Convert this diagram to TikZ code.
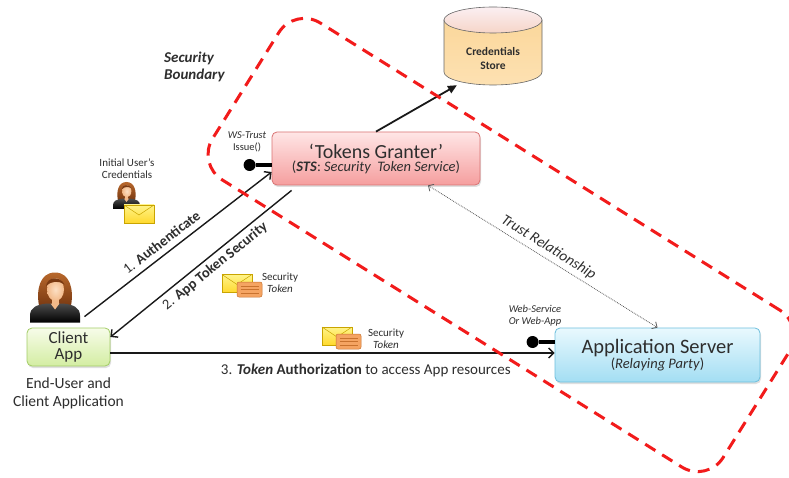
\documentclass[tikz,border=0pt]{standalone}
\usepackage{fontspec}
\setmainfont{Carlito}
\usetikzlibrary{arrows.meta,positioning,calc,shadows}
\definecolor{stsline}{HTML}{D97373}
\definecolor{ststop}{HTML}{FFE6E6}
\definecolor{stsbot}{HTML}{F59E9E}
\definecolor{appline}{HTML}{6DBFDD}
\definecolor{apptop}{HTML}{E9F9FE}
\definecolor{appbot}{HTML}{A3DEF3}
\definecolor{cliline}{HTML}{A3CC66}
\definecolor{clitop}{HTML}{F7FCE9}
\definecolor{clibot}{HTML}{D3EDA2}
\definecolor{storetop}{HTML}{FBD79B}
\definecolor{storemid}{HTML}{F8B27E}
\definecolor{storebot}{HTML}{FDE1B2}
\definecolor{storecap}{HTML}{FBEFF2}
\definecolor{storecapb}{HTML}{F6D5C8}
\definecolor{bndred}{HTML}{F21B1B}
\definecolor{envtop}{HTML}{FFF48A}
\definecolor{envbot}{HTML}{FFD92E}
\definecolor{envedge}{HTML}{C9A400}
\definecolor{tokfill}{HTML}{F5A462}
\definecolor{tokedge}{HTML}{C8722E}
\definecolor{hairtop}{HTML}{B8682C}
\definecolor{hairbot}{HTML}{7A3A12}
\definecolor{skin}{HTML}{F2B989}
\definecolor{skinlt}{HTML}{FCE0C4}
\definecolor{txtgray}{HTML}{2E2E2E}

\begin{document}
\begin{tikzpicture}[
  x=1pt, y=1pt,
  cardbox/.style={rounded corners=5pt, line width=0.8pt, align=center, text=txtgray, inner sep=2pt,
                  drop shadow={opacity=0.25, shadow xshift=1pt, shadow yshift=-2pt}},
  stsbox/.style={cardbox, draw=stsline, top color=ststop, bottom color=stsbot,
                 minimum width=208pt, minimum height=53pt},
  srvbox/.style={cardbox, draw=appline, top color=apptop, bottom color=appbot,
                 minimum width=205pt, minimum height=54pt},
  clibox/.style={cardbox, draw=cliline, top color=clitop, bottom color=clibot,
                 minimum width=83pt, minimum height=38pt, font=\fontsize{17}{16}\selectfont},
  storebox/.style={minimum width=98pt, minimum height=52pt, align=center, text=txtgray,
                   font=\fontsize{11.5}{14}\selectfont\bfseries},
  arr/.style={-{Straight Barb[length=5pt,width=10pt]}, line width=1.4pt, black!90},
  storearr/.style={-{Triangle[length=9pt,width=8pt]}, line width=1.8pt, black!90},
  trust/.style={{Straight Barb[length=4pt,width=8pt]}-{Straight Barb[length=4pt,width=8pt]},
                densely dotted, line width=0.8pt, black!65},
  lbl/.style={font=\fontsize{14.5}{16}\selectfont, text=txtgray, inner sep=1pt},
  note/.style={font=\fontsize{11}{12}\selectfont, text=txtgray, align=center, inner sep=0pt},
  plughead/.style={circle, fill=black, minimum size=12pt, inner sep=0pt},
  plug/.style={line width=3.5pt, black},
  boundary/.style={draw=bndred, line width=3pt, dash pattern=on 12pt off 8pt, rounded corners=30pt},
  pics/woman/.style={code={
    % hair, shoulders, face
    \shade[top color=hairtop, bottom color=hairbot]
      (-16,-8) .. controls (-19,8) and (-15,25) .. (0,25)
      .. controls (15,25) and (19,8) .. (16,-8) -- cycle;
    \shade[top color=black!70, bottom color=black]
      (-25,-25) -- (-25,-18) .. controls (-25,-10) and (-18,-7) .. (-8,-6)
      -- (8,-6) .. controls (18,-7) and (25,-10) .. (25,-18) -- (25,-25) -- cycle;
    \fill[skin] (-4.5,-6) -- (4.5,-6) -- (0,-12) -- cycle;
    \fill[skin] (-3.5,-6) rectangle (3.5,0);
    \shade[inner color=skinlt, outer color=skin] (0.5,8) ellipse[x radius=8.5, y radius=11.5];
    \fill[hairbot] (-9,11) .. controls (-8,21) and (5,22) .. (9.5,13)
      .. controls (4,17) and (-4,17) .. (-9,11) -- cycle;
  }},
  pics/envelope/.style={code={
    \shade[top color=envtop, bottom color=envbot, draw=envedge, line width=0.4pt]
      (-15,-9) rectangle (15,9);
    \draw[envedge, line width=0.5pt] (-15,9) -- (0,-1) -- (15,9);
  }},
  pics/token/.style={code={
    \fill[tokfill, draw=tokedge, rounded corners=2pt, line width=0.5pt] (-12.5,-7.5) rectangle (12.5,7.5);
    \foreach \ty in {3.5,0,-3.5} \draw[tokedge, line width=0.5pt] (-9,\ty) -- (9,\ty);
  }},
]

\path[use as bounding box, fill=white] (0,0) rectangle (789,477);

%% Credentials store (cylinder drawn by hand, text node on top)
\coordinate (storec) at (493,418);
\shade[top color=storetop, middle color=storemid, bottom color=storebot, draw=black!60, line width=0.6pt]
  ($(storec)+(-49,39)$) -- ($(storec)+(-49,-13)$)
  arc[start angle=180, end angle=360, x radius=49, y radius=13]
  -- ($(storec)+(49,39)$) -- cycle;
\shade[top color=storecap, bottom color=storecapb, draw=black!60, line width=0.6pt]
  ($(storec)+(0,39)$) ellipse[x radius=49, y radius=13];
\node[storebox] (store) at (storec) {Credentials\\Store};

%% Main boxes
\node[stsbox] (grant) at (376,318.5)
  {\fontsize{20}{20}\selectfont ‘Tokens Granter’\\[1pt]
   \fontsize{14.5}{17}\selectfont (\textbf{\textit{STS}}: \textit{Security\ \ Token Service})};
\node[srvbox] (app) at (657.5,122)
  {\fontsize{20.5}{20}\selectfont Application Server\\
   \fontsize{14.5}{16}\selectfont (\textit{Relaying Party})};
\node[clibox] (client) at (68.5,130) {Client\\App};
\node[note, below=11pt of client, font=\fontsize{15.5}{18}\selectfont] (enduser)
  {End-User and\\Client Application};

\node[font=\fontsize{15}{17}\selectfont\bfseries\itshape, text=txtgray, align=left,
      anchor=north west, inner sep=0pt] (seclabel) at (164,425) {Security\\Boundary};

%% People, envelopes and tokens
\pic at (55,179.5) {woman};
\pic[scale=0.54] at (126.5,281.5) {woman};
\pic at (139,263) {envelope};
\node[note] (initcred) at (127,308) {Initial User's\\Credentials};

\pic at (237,193.5) {envelope};
\pic at (249.5,187.5) {token};
\node[note] (tok2) at (280,194) {Security\\\textit{Token}};

\pic at (337,141) {envelope};
\pic at (348.5,135.5) {token};
\node[note] (tok3) at (386,138.5) {Security\\\textit{Token}};

%% Service end points
\node[plughead] (wsplug) at ($(grant.west)+(-22,-6.5)$) {};
\draw[plug] (wsplug) -- (wsplug -| grant.west);
\node[note, font=\fontsize{10.5}{12}\selectfont] (wslbl) at (247,335) {\textit{WS-Trust}\\Issue()};
\node[plughead] (webplug) at ($(app.west)+(-22,13)$) {};
\draw[plug] (webplug) -- (webplug -| app.west);
\node[note, font=\fontsize{10.5}{12}\selectfont\itshape] (weblbl) at (535,161) {Web-Service\\Or Web-App};

%% Messages
\draw[arr] ([xshift=16pt,yshift=11pt]client.north)
  -- node[lbl, sloped, above=5pt, pos=0.45] {1. \textbf{Authenticate}} ([yshift=-13.5pt]grant.west);
\draw[arr] ([xshift=20pt,yshift=-5pt]grant.south west)
  -- node[lbl, sloped, below=3pt, pos=0.46] {2. \textbf{App Token Security}} ([yshift=10pt]client.east);
\coordinate (tokstart) at ([yshift=-6pt]client.east);
\draw[arr] (tokstart)
  -- node[lbl, below=9pt, pos=0.575, font=\fontsize{15}{16}\selectfont]
     {3. \textbf{\textit{Token} Authorization} to access App resources}
  (tokstart -| app.west);
\draw[storearr] (grant.north) -- (store.-144);
\draw[trust] ([xshift=52pt]grant.south)
  -- node[lbl, sloped, above=3pt, font=\fontsize{15}{16}\selectfont\itshape] {Trust Relationship} (app.north);

%% Security boundary
\node[boundary, rotate=-32, minimum width=602pt, minimum height=185pt] (secbound) at (501,232) {};

\end{tikzpicture}
\end{document}
